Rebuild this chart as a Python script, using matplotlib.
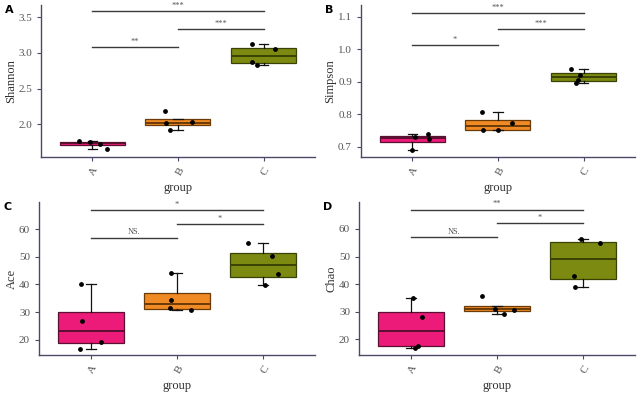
import matplotlib
matplotlib.use("Agg")
import matplotlib.pyplot as plt
import numpy as np

groups = ["A", "B", "C"]
fill_colors = ["#EC1A78", "#F08A24", "#7C8A12"]
edge_colors = ["#5a1030", "#6a3a08", "#3a4205"]

# Values per panel and group
shannon = [[1.66, 1.73, 1.75, 1.77], [1.92, 2.02, 2.03, 2.19], [2.83, 2.87, 3.05, 3.13]]
simpson = [[0.690, 0.722, 0.730, 0.738], [0.750, 0.752, 0.772, 0.806], [0.896, 0.905, 0.921, 0.938]]
ace = [[16.7, 19.3, 26.7, 40.3], [30.6, 31.5, 34.3, 44.3], [39.8, 43.9, 50.3, 54.9]]
chao = [[17.0, 17.6, 28.2, 35.0], [29.3, 30.6, 31.1, 35.8], [39.0, 43.0, 55.0, 56.2]]

# jitter offsets (same order as values)
shannon_jit = [[0.17, 0.09, -0.03, -0.15], [-0.09, -0.14, 0.17, -0.15], [-0.08, -0.14, 0.13, -0.13]]
simpson_jit = [[0.0, 0.19, 0.03, 0.18], [-0.17, 0.0, 0.17, -0.19], [-0.09, -0.07, -0.04, -0.15]]
ace_jit = [[-0.12, 0.12, -0.10, -0.11], [0.16, -0.08, -0.07, -0.07], [0.02, 0.17, 0.10, -0.18]]
chao_jit = [[0.05, 0.08, 0.13, 0.03], [0.08, 0.20, -0.02, -0.17], [-0.09, -0.11, 0.20, -0.03]]

# significance: (group i, group j, y, label)
shannon_sig = [(0, 1, 3.08, "**"), (1, 2, 3.33, "***"), (0, 2, 3.58, "***")]
simpson_sig = [(0, 1, 1.013, "*"), (1, 2, 1.063, "***"), (0, 2, 1.112, "***")]
ace_sig = [(0, 1, 57, "NS."), (1, 2, 62, "*"), (0, 2, 67, "*")]
chao_sig = [(0, 1, 57, "NS."), (1, 2, 62, "*"), (0, 2, 67, "**")]

panels = [
    ("A", "Shannon", shannon, shannon_jit, shannon_sig, (1.544, 3.67), [2.0, 2.5, 3.0, 3.5], "%.1f",
     [0.064, 0.6045, 0.428, 0.383]),
    ("B", "Simpson", simpson, simpson_jit, simpson_sig, (0.668, 1.136), [0.7, 0.8, 0.9, 1.0, 1.1], "%.1f",
     [0.564, 0.6045, 0.428, 0.383]),
    ("C", "Ace", ace, ace_jit, ace_sig, (14.45, 69.9), [20, 30, 40, 50, 60], "%d",
     [0.061, 0.106, 0.431, 0.385]),
    ("D", "Chao", chao, chao_jit, chao_sig, (14.4, 69.7), [20, 30, 40, 50, 60], "%d",
     [0.561, 0.106, 0.431, 0.385]),
]

serif = ["Liberation Serif", "DejaVu Serif"]
spine_col = "#4a4a66"
tick_col = "#555555"

fig = plt.figure(figsize=(6.4, 3.97), dpi=100)

for letter, ylabel, data, jit, sig, ylim, yticks, fmt, pos in panels:
    ax = fig.add_axes(pos)
    positions = [1, 2, 3]
    bp = ax.boxplot(data, positions=positions, widths=0.76, patch_artist=True,
                    showfliers=False, whis=1.5, capwidths=0.11, zorder=2)
    for i, box in enumerate(bp["boxes"]):
        box.set_facecolor(fill_colors[i])
        box.set_edgecolor(edge_colors[i])
        box.set_linewidth(0.9)
    for i, med in enumerate(bp["medians"]):
        med.set_color(edge_colors[i])
        med.set_linewidth(1.4)
    for w in bp["whiskers"]:
        w.set_color("#111111")
        w.set_linewidth(0.9)
    for c in bp["caps"]:
        c.set_color("#111111")
        c.set_linewidth(0.9)
    for i, (vals, offs) in enumerate(zip(data, jit)):
        ax.scatter(np.array(positions[i]) + np.array(offs), vals, s=6, color="black", zorder=4)
    yr = ylim[1] - ylim[0]
    for gi, gj, yv, lab in sig:
        ax.plot([positions[gi], positions[gj]], [yv, yv], color="#3a3a3a", lw=1.0, zorder=3)
        ax.text((positions[gi] + positions[gj]) / 2, yv + yr * 0.008, lab, ha="center", va="bottom",
                fontsize=6, color="#555555", family=serif)
    ax.set_xlim(0.4, 3.6)
    ax.set_ylim(*ylim)
    ax.set_yticks(yticks)
    ax.set_yticklabels([fmt % t for t in yticks], family=serif, fontsize=8, color=tick_col)
    ax.set_xticks(positions)
    ax.set_xticklabels(groups, rotation=60, family=serif, fontsize=8, color=tick_col, ha="right",
                       rotation_mode="anchor")
    for s in ["top", "right"]:
        ax.spines[s].set_visible(False)
    for s in ["left", "bottom"]:
        ax.spines[s].set_color(spine_col)
        ax.spines[s].set_linewidth(1.0)
    ax.tick_params(colors=spine_col, length=3, width=0.8, labelcolor=tick_col)
    ax.set_ylabel(ylabel, family=serif, fontsize=9, color="#333333", labelpad=1)
    ax.set_xlabel("group", family=serif, fontsize=9, color="#333333", labelpad=3)
    ax.patch.set_alpha(0)
    fig.text(pos[0] - 0.056, pos[1] + pos[3] - 0.012, letter, fontsize=8, fontweight="bold",
             family="DejaVu Sans", ha="left", va="center")

fig.savefig("out.png", dpi=100)
